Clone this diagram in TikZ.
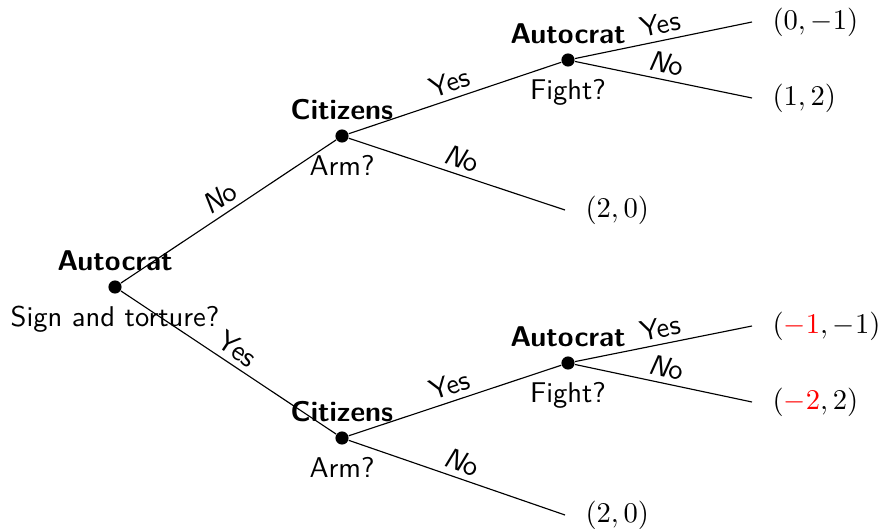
\documentclass[tikz,border=0pt]{standalone}
\usepackage{xcolor}
\usetikzlibrary{positioning}

\newcommand{\nolab}{{\slshape N}o}

\begin{document}
\begin{tikzpicture}[x=0.35pt, y=-0.35pt, node distance=0pt,
    dot/.style = {circle, fill, inner sep=0pt, minimum size=4.6pt},
    who/.style = {font=\sffamily\bfseries, inner sep=3pt},
    ask/.style = {font=\sffamily, inner sep=3pt},
    lab/.style = {font=\sffamily, sloped, above, inner sep=2pt},
    pay/.style = {inner sep=0pt} ]

   \useasboundingbox (0,0) rectangle (883,529);

   % decision nodes
   \node[dot] (root) at (115,287) {};
   \node[dot] (cit1) at (342,136) {};
   \node[dot] (cit2) at (342,438) {};
   \node[dot] (aut1) at (568,60)  {};
   \node[dot] (aut2) at (568,363) {};

   \node[who, above=of root]     {Autocrat};
   \node[ask, below=1pt of root] {Sign and torture?};
   \node[who, above=of cit1]     {Citizens};
   \node[ask, below=1pt of cit1] {Arm?};
   \node[who, above=of cit2]     {Citizens};
   \node[ask, below=1pt of cit2] {Arm?};
   \node[who, above=of aut1]     {Autocrat};
   \node[ask, below=1pt of aut1] {Fight?};
   \node[who, above=of aut2]     {Autocrat};
   \node[ask, below=1pt of aut2] {Fight?};

   % end points and payoffs
   \coordinate (e1) at (752,22);
   \coordinate (e2) at (752,98);
   \coordinate (e3) at (565,210);
   \coordinate (e4) at (752,326);
   \coordinate (e5) at (752,402);
   \coordinate (e6) at (565,515);

   \node[pay, right=7pt of e1] (p1) {$(0,-1)$};
   \node[pay, right=7pt of e2] (p2) {$(1,2)$};
   \node[pay, right=7pt of e3] (p3) {$(2,0)$};
   \node[pay, right=7pt of e4] (p4) {$(\textcolor{red}{-1},-1)$};
   \node[pay, right=7pt of e5] (p5) {$(\textcolor{red}{-2},2)$};
   \node[pay, right=7pt of e6] (p6) {$(2,0)$};

   % moves
   \draw (root) -- node[lab] {\nolab} (cit1);
   \draw (root) -- node[lab] {Yes}    (cit2);
   \draw (cit1) -- node[lab] {Yes}    (aut1);
   \draw (cit1) -- node[lab] {\nolab} (e3);
   \draw (cit2) -- node[lab] {Yes}    (aut2);
   \draw (cit2) -- node[lab] {\nolab} (e6);
   \draw (aut1) -- node[lab] {Yes}    (e1);
   \draw (aut1) -- node[lab] {\nolab} (e2);
   \draw (aut2) -- node[lab] {Yes}    (e4);
   \draw (aut2) -- node[lab] {\nolab} (e5);
\end{tikzpicture}
\end{document}
